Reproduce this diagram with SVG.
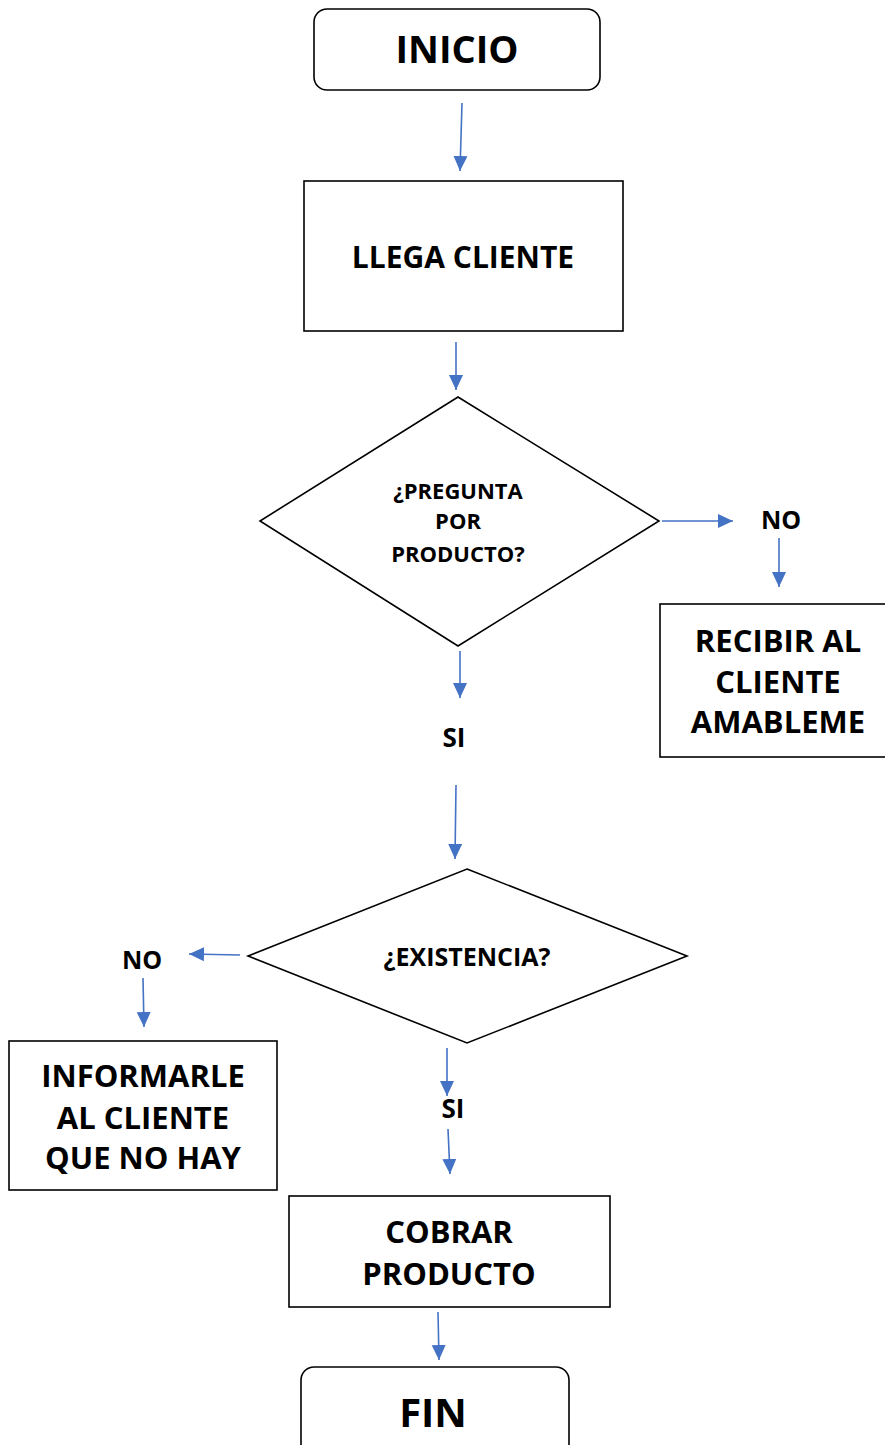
<svg xmlns="http://www.w3.org/2000/svg" width="885" height="1445" viewBox="0 0 885 1445">
<style>
.box{fill:#fff;stroke:#000;stroke-width:1.6}
.t{font-family:"Open Sans",Lato,"Liberation Sans",sans-serif;font-weight:bold;fill:#000;text-anchor:middle}
.c{stroke:#4472C4;stroke-width:1.6;fill:none;marker-end:url(#ah)}
</style>
<defs>
<marker id="ah" markerUnits="userSpaceOnUse" markerWidth="16" markerHeight="16" viewBox="0 0 16 16" refX="15" refY="8" orient="auto">
<path d="M0,1 L15,8 L0,15 Z" fill="#4472C4"/>
</marker>
</defs>
<rect width="885" height="1445" fill="#fff"/>
<g id="inicio"><rect class="box" x="314" y="9" width="286" height="81" rx="13"/><text class="t" x="457" y="63" font-size="38">INICIO</text></g>
<g id="llega"><rect class="box" x="304" y="181" width="319" height="150"/><text class="t" x="463" y="268" font-size="30">LLEGA CLIENTE</text></g>
<g id="pregunta"><polygon class="box" points="458,397 659,521 458,646 260,521"/><text class="t" font-size="22"><tspan x="458" y="499">¿PREGUNTA</tspan><tspan x="458" y="529">POR</tspan><tspan x="458" y="562">PRODUCTO?</tspan></text></g>
<g id="no1"><text class="t" x="781" y="529" font-size="25">NO</text></g>
<g id="recibir"><rect class="box" x="660" y="604" width="232" height="153"/><text class="t" font-size="31"><tspan x="778" y="652">RECIBIR AL</tspan><tspan x="778" y="693">CLIENTE</tspan><tspan x="778" y="733">AMABLEME</tspan></text></g>
<g id="si1"><text class="t" x="454" y="747" font-size="26">SI</text></g>
<g id="existencia"><polygon class="box" points="467,869 687,956 467,1043 248,956"/><text class="t" x="467" y="966" font-size="25">¿EXISTENCIA?</text></g>
<g id="no2"><text class="t" x="142" y="969" font-size="25">NO</text></g>
<g id="informarle"><rect class="box" x="9" y="1041" width="268" height="149"/><text class="t" font-size="31"><tspan x="143" y="1087">INFORMARLE</tspan><tspan x="143" y="1129">AL CLIENTE</tspan><tspan x="143" y="1169">QUE NO HAY</tspan></text></g>
<g id="si2"><text class="t" x="453" y="1118" font-size="26">SI</text></g>
<g id="cobrar"><rect class="box" x="289" y="1196" width="321" height="111"/><text class="t" font-size="31"><tspan x="449" y="1243">COBRAR</tspan><tspan x="449" y="1285">PRODUCTO</tspan></text></g>
<g id="fin"><rect class="box" x="301" y="1367" width="268" height="100" rx="13"/><text class="t" x="433" y="1427" font-size="40">FIN</text></g>
<g id="connectors">
<line class="c" x1="462" y1="103" x2="460" y2="171"/>
<line class="c" x1="456" y1="342" x2="456" y2="390"/>
<line class="c" x1="662" y1="521" x2="733" y2="521"/>
<line class="c" x1="779" y1="538" x2="779" y2="587"/>
<line class="c" x1="460" y1="651" x2="460" y2="698"/>
<line class="c" x1="456" y1="785" x2="455" y2="859"/>
<line class="c" x1="240" y1="955" x2="189" y2="954"/>
<line class="c" x1="143" y1="978" x2="144" y2="1027"/>
<line class="c" x1="447" y1="1048" x2="447" y2="1096"/>
<line class="c" x1="448" y1="1129" x2="450" y2="1174"/>
<line class="c" x1="438" y1="1312" x2="439" y2="1360"/>
</g>
</svg>
